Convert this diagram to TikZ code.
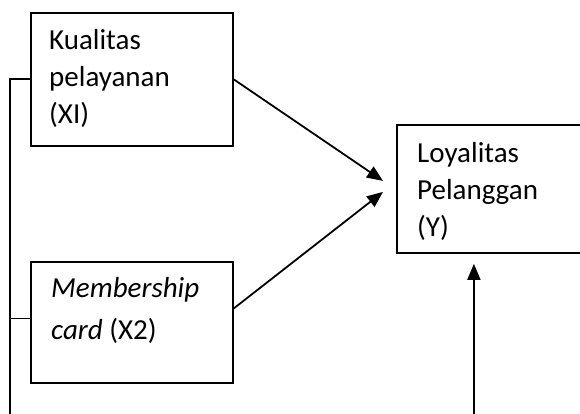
\documentclass[tikz,border=0pt]{standalone}
\usepackage{fontspec}
\setmainfont{Carlito}
\usetikzlibrary{arrows.meta, positioning, calc}

\begin{document}
\begin{tikzpicture}[x=1pt, y=-1pt, >={Triangle[length=16pt, width=13pt]},
    box/.style={draw, line width=1.8pt, inner sep=0pt, anchor=north west},
    txt/.style={align=left, inner sep=0pt, anchor=north west, font=\fontsize{29}{37}\selectfont},
    link/.style={line width=1.8pt}]
    \useasboundingbox (0,0) rectangle (580,414);
    % variabel bebas
    \node[box, minimum width=202pt, minimum height=133pt] (kp) at (30,12) {};
    \node[txt] (kptext) at ([xshift=19pt, yshift=-17.5pt]kp.north west) {Kualitas\\pelayanan\\(XI)};
    \node[box, minimum width=202pt, minimum height=121pt] (mc) at (30,261) {};
    \node[txt, font=\fontsize{29}{42}\selectfont] (mctext) at ([xshift=21pt, yshift=-16.5pt]mc.north west) {\textit{Membership}\\\textit{card} (X2)};
    % variabel terikat
    \node[box, minimum width=200pt, minimum height=128pt] (ly) at (396,124) {};
    \node[txt] (lytext) at ([xshift=21pt, yshift=-18.5pt]ly.north west) {Loyalitas\\Pelanggan\\(Y)};
    % ujung panah dan garis
    \coordinate (tip1) at ([xshift=-13pt, yshift=8pt]ly.west);
    \coordinate (tip2) at ([xshift=-13pt, yshift=-3pt]ly.west);
    \coordinate (tip3) at ([xshift=-23pt, yshift=-10pt]ly.south);
    \coordinate (start1) at ([yshift=14pt]mc.east);
    \coordinate (kiri) at (10,414);
    \coordinate (bawah) at (tip3 |- kiri);
    \draw[link, ->] (kp.east) -- (tip1);
    \draw[link, ->] (start1) -- (tip2);
    \draw[link, ->] (bawah) -- (tip3);
    \draw[link] (kiri) -- (kiri |- kp.west) -- (kp.west);
    \draw[link] (kiri |- mc.west) ++(0,-4) coordinate (cab) -- (cab -| mc.west);
\end{tikzpicture}
\end{document}
